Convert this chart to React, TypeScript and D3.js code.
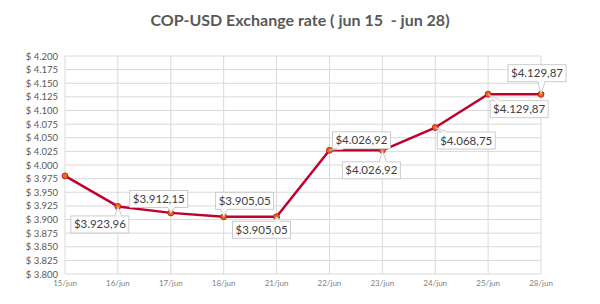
import * as d3 from "d3";

// data
const dates = ["15/jun", "16/jun", "17/jun", "18/jun", "21/jun", "22/jun", "23/jun", "24/jun", "25/jun", "28/jun"];
const rates = [3980.0, 3923.96, 3912.15, 3905.05, 3905.05, 4026.92, 4026.92, 4068.75, 4129.87, 4129.87];
const showLabel = [false, true, true, true, true, true, true, true, true, true];
const yTickValues = d3.range(3800, 4200.1, 25);

// callout offsets (label center relative to point), layout only
const labelOffsets: [number, number][] = [
  [0, 0], [-18, 18], [-12, -14], [21, -16], [-15, 13],
  [32, -10], [-11, 20], [31, 13], [31, 15], [-4, -21],
];

const W = 600;
const H = 304;
const margin = { top: 56, right: 59, bottom: 30, left: 65 };

const fmtMoney = (v: number) => {
  const [intPart, dec] = v.toFixed(2).split(".");
  const withDots = intPart.replace(/\B(?=(\d{3})+(?!\d))/g, ".");
  return `$${withDots},${dec}`;
};
const fmtTick = (v: number) => `$ ${d3.format(",")(v).replace(/,/g, ".")}`;

export default function App() {
  const innerW = W - margin.left - margin.right;
  const innerH = H - margin.top - margin.bottom;

  const x = d3.scalePoint<string>().domain(dates).range([0, innerW]);
  const y = d3.scaleLinear().domain([3800, 4200]).range([innerH, 0]);

  const line = d3
    .line<number>()
    .x((_, i) => x(dates[i])!)
    .y((d) => y(d));

  const boxW = 58;
  const boxH = 17;

  return (
    <svg width={W} height={H} style={{ position: "absolute", left: 0, top: 0 }}>
      <rect width={W} height={H} fill="#fff" />
      <text
        x={W / 2}
        y={26}
        textAnchor="middle"
        fontFamily="Lato, 'Open Sans', sans-serif"
        fontWeight="bold"
        fontSize={16}
        fill="#595959"
        style={{ whiteSpace: "pre" }}
      >
        {"COP-USD Exchange rate ( jun 15  - jun 28)"}
      </text>

      <g transform={`translate(${margin.left},${margin.top})`}>
        {/* horizontal grid + y labels */}
        {yTickValues.map((t) => (
          <g key={t} transform={`translate(0,${y(t)})`}>
            <line x1={0} x2={innerW} stroke="#d9d9d9" strokeWidth={1} />
            <text
              x={-7}
              y={3.5}
              textAnchor="end"
              fontFamily="Lato, sans-serif"
              fontSize={9.5}
              fill="#595959"
            >
              {fmtTick(t)}
            </text>
          </g>
        ))}

        {/* vertical grid + x labels */}
        {dates.map((d) => (
          <g key={d} transform={`translate(${x(d)},0)`}>
            <line y1={0} y2={innerH} stroke="#d9d9d9" strokeWidth={1} />
            <text
              y={innerH + 12}
              textAnchor="middle"
              fontFamily="Lato, sans-serif"
              fontSize={8}
              fill="#7f7f7f"
            >
              {d}
            </text>
          </g>
        ))}

        <path
          d={line(rates) || ""}
          fill="none"
          stroke="#c0002f"
          strokeWidth={2.5}
          strokeLinejoin="round"
        />
        {rates.map((v, i) => (
          <circle
            key={i}
            cx={x(dates[i])}
            cy={y(v)}
            r={3}
            fill="#e46c0a"
            stroke="#c0002f"
            strokeWidth={0.8}
          />
        ))}

        {/* callouts */}
        {rates.map((v, i) => {
          if (!showLabel[i]) return null;
          const px = x(dates[i])!;
          const py = y(v);
          const [dx, dy] = labelOffsets[i];
          const cx = px + dx;
          const cy = py + dy;
          const left = cx - boxW / 2;
          const top = cy - boxH / 2;
          // wedge base on top or bottom edge, near the point
          const edgeY = dy > 0 ? top : top + boxH;
          const baseX = Math.max(left + 4, Math.min(left + boxW - 10, px - 3));
          const wedge = `M${baseX},${edgeY}L${px},${py}L${baseX + 7},${edgeY}`;
          return (
            <g key={i}>
              <path d={wedge} fill="#fff" stroke="#bfbfbf" strokeWidth={0.8} />
              <rect
                x={left}
                y={top}
                width={boxW}
                height={boxH}
                fill="#fff"
                stroke="#bfbfbf"
                strokeWidth={0.8}
              />
              <line x1={baseX + 0.5} x2={baseX + 6.5} y1={edgeY} y2={edgeY} stroke="#fff" strokeWidth={1.2} />
              <text
                x={cx}
                y={cy + 4}
                textAnchor="middle"
                fontFamily="Lato, sans-serif"
                fontSize={11.5}
                fill="#404040"
              >
                {fmtMoney(v)}
              </text>
            </g>
          );
        })}
      </g>
    </svg>
  );
}
